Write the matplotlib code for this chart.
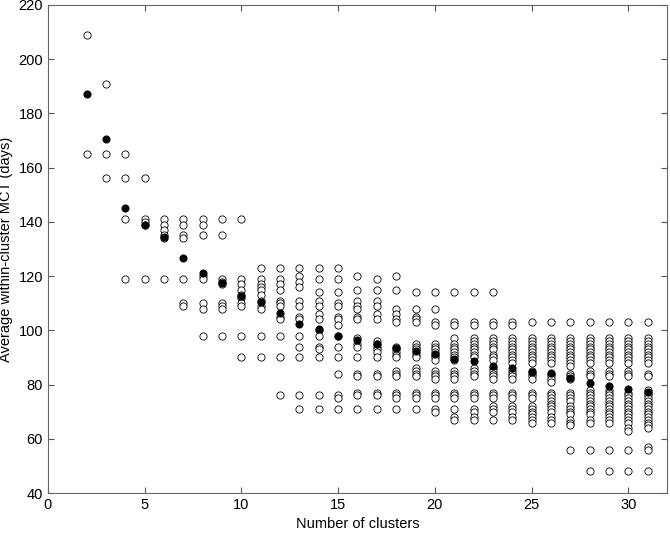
import matplotlib
matplotlib.use("Agg")
import matplotlib.pyplot as plt
import numpy as np

plt.rcParams['font.family'] = ['Liberation Sans', 'DejaVu Sans']

# average MCT per cluster, for every number of clusters k (k values per column)
cluster_mct = {
    2: [209, 165],
    3: [191, 165, 156],
    4: [165, 156, 141, 119],
    5: [156, 141, 140, 139, 119],
    6: [141, 139, 137, 135, 134, 119],
    7: [141, 139, 135, 134, 119, 110, 109],
    8: [141, 139, 135, 120, 119, 110, 108, 98],
    9: [141, 135, 119, 118, 117, 110, 109, 108, 98],
    10: [141, 119, 117, 115, 113, 112, 110, 109, 98, 90],
    11: [123, 119, 117, 116, 115, 113, 111, 109, 108, 98, 90],
    12: [123, 119, 117, 115, 111, 110, 109, 105, 104, 98, 90, 76],
    13: [123, 120, 118, 116, 111, 109, 105, 104, 98, 94, 90, 76, 71],
    14: [123, 119, 114, 111, 109, 106, 104, 100, 98, 94, 93, 90, 76, 71],
    15: [123, 119, 114, 110, 109, 105, 104, 102, 98, 94, 90, 84, 76, 75, 71],
    16: [120, 115, 111, 109, 108, 105, 104, 97, 95, 94, 90, 84, 83, 77, 76, 71],
    17: [119, 115, 111, 109, 106, 104, 96, 95, 94, 93, 92, 90, 84, 83, 77, 76, 71],
    18: [120, 115, 108, 106, 104, 103, 94, 93, 92, 91, 90, 85, 84, 83, 77, 76, 75, 71],
    19: [114, 108, 105, 104, 103, 95, 94, 93, 92, 91, 90, 86, 85, 84, 83, 77, 76, 75, 71],
    20: [114, 108, 103, 102, 95, 94, 93, 92, 91, 90, 89, 85, 84, 83, 82, 77, 76, 75, 71, 70],
    21: [114, 103, 102, 97, 95, 94, 93, 92, 91, 90, 89, 85, 84, 83, 82, 77, 76, 75, 71, 68, 67],
    22: [114, 103, 102, 97, 96, 95, 94, 93, 92, 91, 90, 86, 85, 84, 83, 77, 76, 75, 71, 70, 68, 67],
    23: [114, 103, 102, 97, 96, 95, 94, 93, 91, 90, 89, 86, 85, 84, 83, 82, 77, 76, 75, 72, 71, 70, 67],
    24: [103, 102, 97, 96, 95, 94, 93, 92, 91, 90, 89, 88, 85, 84, 83, 82, 77, 76, 75, 72, 71, 70, 68, 67],
    25: [103, 97, 96, 95, 94, 93, 92, 91, 90, 89, 88, 85, 84, 83, 82, 77, 76, 75, 72, 71, 70, 69, 68, 67, 66],
    26: [103, 97, 96, 95, 94, 93, 92, 91, 90, 89, 88, 84, 83, 82, 81, 77, 76, 75, 74, 73, 72, 71, 70, 68, 67, 66],
    27: [103, 97, 96, 95, 94, 93, 92, 91, 90, 89, 88, 87, 84, 83, 82, 77, 76, 75, 74, 72, 71, 70, 69, 67, 66, 65, 56],
    28: [103, 97, 96, 95, 94, 93, 92, 91, 90, 89, 88, 85, 84, 83, 78, 77, 76, 75, 74, 73, 72, 71, 70, 69, 67, 66, 56, 48],
    29: [103, 97, 96, 95, 94, 93, 92, 91, 90, 89, 88, 85, 84, 83, 78, 77, 76, 75, 74, 73, 72, 71, 70, 69, 68, 67, 66, 56, 48],
    30: [103, 97, 96, 95, 94, 93, 92, 91, 90, 89, 88, 85, 84, 83, 77, 76, 75, 74, 73, 72, 71, 70, 69, 68, 67, 66, 64, 63, 56, 48],
    31: [103, 97, 96, 95, 94, 93, 92, 91, 90, 89, 88, 84, 83, 78, 77, 76, 75, 74, 73, 72, 71, 70, 69, 68, 67, 66, 65, 64, 57, 56, 48],
}

# filled dots = average over the clusters
n_clusters = list(range(2, 32))
avg_mct = [187, 170.7, 145.3, 139, 134.5, 126.8, 121.3, 117.3, 112.6, 110.6,
           106.5, 102.5, 100.5, 98, 96.6, 95, 93.4, 92.5, 91.3, 89.6,
           88.6, 86.8, 86.1, 84.7, 84.1, 82.4, 80.6, 79.6, 78.5, 77.3]

fig = plt.figure(figsize=(6.7, 5.35), dpi=100)
ax = fig.add_axes([0.0716, 0.0785, 0.9239, 0.9122])

for k, vals in cluster_mct.items():
    ax.plot([k] * len(vals), vals, 'o', ms=5.2, mfc='white', mec='black', mew=0.6)

ax.plot(n_clusters, avg_mct, 'o', ms=5.2, mfc='black', mec='black', mew=0.6)

ax.set_xlim(0, 32)
ax.set_ylim(40, 220)
ax.set_xticks(np.arange(0, 31, 5))
ax.set_yticks(np.arange(40, 221, 20))
ax.tick_params(direction='in', top=True, right=True, labelsize=10.5, length=4, color='#555555')
for s in ax.spines.values():
    s.set_color('#666666')
ax.set_xlabel("Number of clusters", fontsize=10.5)
ax.set_ylabel("Average within-cluster MCT (days)", fontsize=10.5)

fig.savefig("out.png", dpi=100)
